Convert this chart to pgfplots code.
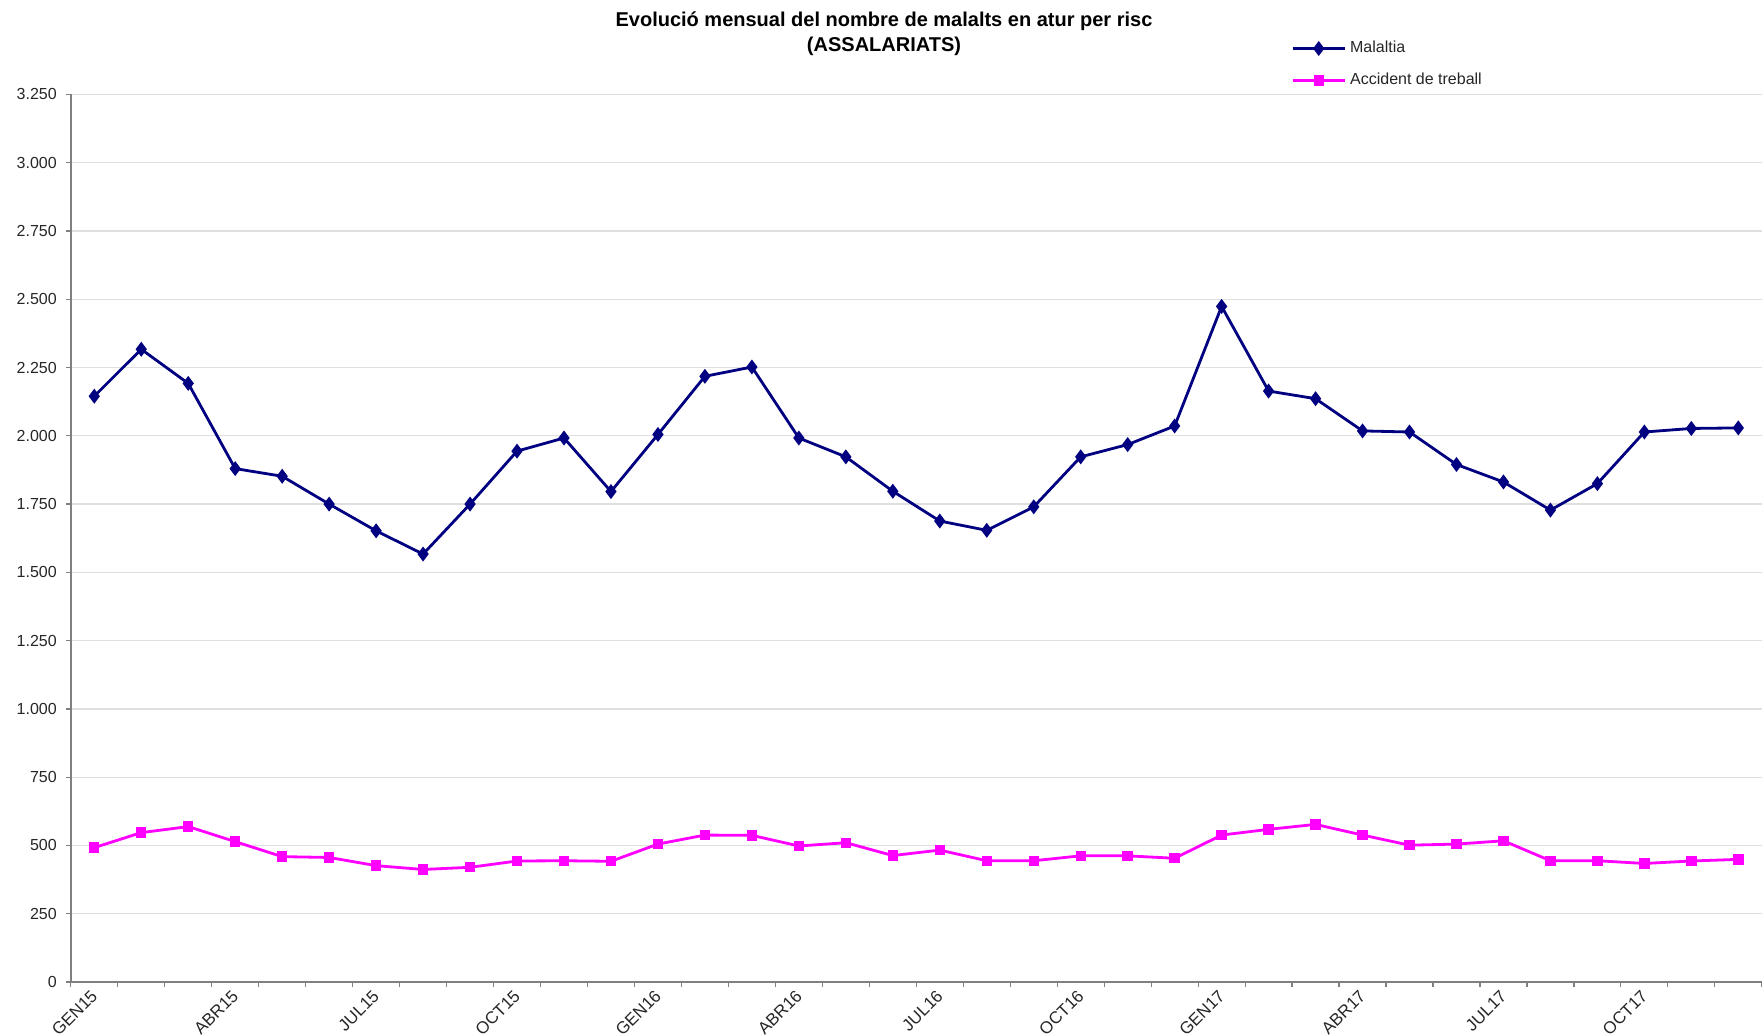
\documentclass[border=0pt]{standalone}
\usepackage{fontspec}
\setmainfont{Liberation Sans}
\usepackage{pgfplots}
\usepackage{pgfplotstable}
\pgfplotsset{compat=1.18}
\definecolor{navyc}{HTML}{000080}
\definecolor{magc}{HTML}{FF00FF}
\pgfplotstableread{
x M A
0 2145 492
1 2317 547
2 2192 569
3 1880 514
4 1852 459
5 1750 456
6 1652 426
7 1567 412
8 1750 420
9 1944 443
10 1992 444
11 1796 442
12 2005 505
13 2218 538
14 2252 537
15 1992 498
16 1923 510
17 1797 463
18 1688 483
19 1654 444
20 1740 444
21 1923 462
22 1968 462
23 2036 453
24 2474 538
25 2164 559
26 2136 577
27 2018 538
28 2014 501
29 1895 505
30 1831 517
31 1728 444
32 1825 444
33 2014 434
34 2027 443
35 2029 449
}\datatable
\begin{document}
\begin{tikzpicture}
\path[use as bounding box] (0,0) rectangle (881pt,518pt);
\begin{axis}[
 at={(35.4pt,27pt)}, anchor=south west,
 width=845.5pt, height=443.75pt, scale only axis,
 xmin=-0.5, xmax=35.5, ymin=0, ymax=3250,
 axis x line*=bottom, axis y line*=left,
 axis line style={-, draw=gray, line width=0.8pt},
 tick align=outside,
 major tick length=0pt,
 minor tick length=2.5pt,
 tick style={draw=gray, line width=0.6pt},
 ytick={0,250,...,3250},
 minor ytick={0,250,...,3250},
 scaled y ticks=false,
 ymajorgrids, grid style={draw=gray!25, line width=0.6pt},
 yticklabel style={xshift=-3.5pt, font=\fontsize{8}{9}\selectfont, text=black!85, /pgf/number format/.cd, 1000 sep={.}, assume math mode=true},
 xtick={0,3,6,9,12,15,18,21,24,27,30,33},
 xticklabels={GEN15,ABR15,JUL15,OCT15,GEN16,ABR16,JUL16,OCT16,GEN17,ABR17,JUL17,OCT17},
 minor xtick={-0.5,0.5,...,35.5},
 xticklabel style={rotate=45, anchor=east, yshift=-4pt, xshift=-0.5pt, font=\fontsize{8.5}{9}\selectfont, text=black!85},
 legend style={at={(rel axis cs:0.718,1.0695)}, anchor=north west, draw=none, fill=none, font=\fontsize{8}{9}\selectfont, row sep=4.8pt, text=black!85},
 legend cell align=left,
 legend image code/.code={\draw[mark repeat=2,mark phase=2,#1] plot coordinates {(0pt,0pt) (13pt,0pt) (26pt,0pt)};},
]
\addplot[navyc, line width=1.4pt, mark=diamond*, mark size=2.6pt, mark options={solid}] table[x=x,y=M] {\datatable};
\addlegendentry{Malaltia}
\addplot[magc, line width=1.4pt, mark=square*, mark size=1.9pt, mark options={solid}] table[x=x,y=A] {\datatable};
\addlegendentry{Accident de treball}
\end{axis}
\node[align=center, font=\bfseries\fontsize{10}{12.5}\selectfont] at (442pt,501.3pt) {Evolució mensual del nombre de malalts en atur per risc\\(ASSALARIATS)};
\end{tikzpicture}
\end{document}
